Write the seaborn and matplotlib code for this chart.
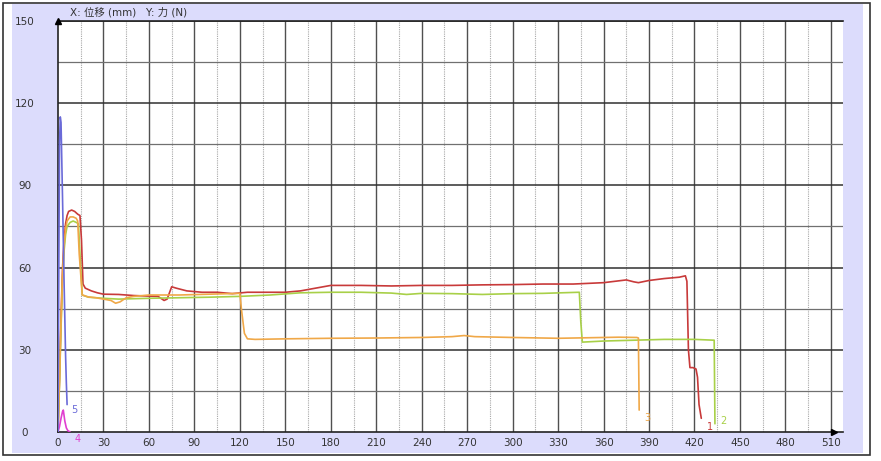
import numpy as np
import pandas as pd
import matplotlib.pyplot as plt
import seaborn as sns
from matplotlib.patches import Rectangle

# curve data (displacement mm, force N)
x1 = [0, 1, 2, 3, 4, 5, 6, 7, 9, 11, 13, 14.5, 15.5, 16.5, 18, 22, 26, 30, 40, 50, 60, 66, 70, 72, 75,
      78, 85, 95, 105, 115, 125, 140, 150, 160, 170, 180, 200, 220, 240, 260, 280, 300, 320, 340,
      360, 375, 380, 383, 390, 400, 410, 414, 415, 416, 417, 419, 421, 422, 423, 424.5]
y1 = [0, 20, 42, 60, 70, 76, 79, 80.5, 81, 80.5, 79.5, 79, 70, 54, 52.5, 51.5, 50.8, 50.3, 50.2, 49.8,
      49.6, 49.5, 48, 48.5, 53, 52.5, 51.5, 51, 51, 50.5, 51, 51, 51, 51.5, 52.5, 53.5, 53.5, 53.3,
      53.5, 53.5, 53.7, 53.8, 54, 54, 54.5, 55.5, 54.8, 54.5, 55.3, 56, 56.5, 57, 55, 30, 23.5, 23.5,
      23, 20, 10, 5]

x2 = [0, 1, 2, 3, 4, 5, 6, 8, 10, 12, 13.5, 14.5, 16, 20, 30, 40, 60, 80, 100, 120, 140, 160, 180, 200,
      220, 230, 240, 260, 280, 300, 320, 344, 345, 346, 360, 380, 400, 420, 433, 433.5]
y2 = [0, 18, 38, 55, 66, 72, 75, 76.5, 77, 76.5, 76, 65, 50, 49.2, 48.8, 48.5, 48.8, 49, 49.2, 49.5,
      50, 50.8, 51, 51, 50.7, 50.2, 50.6, 50.5, 50.2, 50.5, 50.6, 51, 40, 32.8, 33.2, 33.5, 33.8, 33.8,
      33.5, 3]

x3 = [0, 1, 2, 3, 4, 5, 6, 8, 10, 12, 13, 14, 16, 20, 25, 30, 35, 38, 41, 45, 50, 60, 80, 100, 120,
      121, 123, 125, 130, 150, 180, 210, 240, 260, 268, 275, 300, 330, 350, 370, 382, 383, 383.5]
y3 = [0, 19, 40, 57, 68, 74, 77, 78.5, 78.5, 78, 77, 65, 50, 49.3, 49, 48.5, 48, 47, 47.5, 49, 49.5,
      50, 50, 50.3, 50.6, 45, 36, 34, 33.8, 34, 34.2, 34.3, 34.5, 34.8, 35.2, 34.8, 34.5, 34.2, 34.4,
      34.6, 34.5, 34.3, 8]

x4 = [0, 1, 2, 3, 3.5, 4.5, 5.5, 6.5, 8]
y4 = [0, 2, 5, 7.5, 8, 4, 1.5, 0.5, 0]

x5 = [0, 0.5, 1, 1.5, 2, 3, 4, 5, 5.5, 6]
y5 = [0, 55, 105, 115, 113, 85, 55, 28, 18, 10]

curve_names = ["1", "2", "3", "4", "5"]
curve_colors = ["#C83A3A", "#A8D048", "#F0A848", "#E040D0", "#6A6AD8"]
label_x = [430, 439, 389, 13, 11]
label_y = [2, 4, 5, -2.5, 8]

title_text = "X: 位移 (mm)   Y: 力 (N)"
x_ticks = list(range(0, 511, 30))
y_ticks = list(range(0, 151, 30))

frames = []
for name, xs, ys in zip(curve_names, [x1, x2, x3, x4, x5], [y1, y2, y3, y4, y5]):
    frames.append(pd.DataFrame({"disp": xs, "force": ys, "curve": name}))
df = pd.concat(frames, ignore_index=True)

sns.set_style("white")
plt.rcParams['font.family'] = ['DejaVu Sans', 'Noto Sans CJK SC']

fig = plt.figure(figsize=(8.81, 4.61), dpi=100)
fig.patch.set_facecolor("white")

# outer frame + lavender panel
W, H = 881, 461
fig.patches.append(Rectangle((3 / W, 1 - 455 / H), 867 / W, 452 / H, transform=fig.transFigure,
                             facecolor="white", edgecolor="#333333", lw=1.2, zorder=-10))
fig.patches.append(Rectangle((12 / W, 1 - 453 / H), 851 / W, 449 / H, transform=fig.transFigure,
                             facecolor="#DCDCFC", edgecolor="none", zorder=-9))

ax = fig.add_axes([58 / W, 1 - 432 / H, (843 - 58) / W, (432 - 21) / H])
ax.set_zorder(5)
ax.set_facecolor("white")
ax.set_xlim(0, 518)
ax.set_ylim(0, 150)

# grid
for v in range(15, 520, 30):
    ax.axvline(v, color="#A8A8A8", lw=0.8, ls=(0, (1, 1)), zorder=1)
for v in range(30, 520, 30):
    ax.axvline(v, color="#505050", lw=1.0, zorder=1)
for v in range(15, 150, 30):
    ax.axhline(v, color="#707070", lw=0.9, zorder=1)
for v in range(30, 151, 30):
    ax.axhline(v, color="#303030", lw=1.1, zorder=1)

sns.lineplot(data=df, x="disp", y="force", hue="curve", palette=dict(zip(curve_names, curve_colors)),
             sort=False, estimator=None, units="curve", legend=False, lw=1.2, ax=ax, zorder=3)

for name, c, lx, ly in zip(curve_names, curve_colors, label_x, label_y):
    ax.text(lx, ly, name, color=c, fontsize=7, ha="center", va="center", clip_on=False)

# axis arrows
ax.plot([0], [150], marker="^", color="black", ms=5, clip_on=False, zorder=5)
ax.plot([512], [0], marker=">", color="black", ms=5, clip_on=False, zorder=5)

ax.spines["right"].set_visible(False)
for s in ["left", "bottom", "top"]:
    ax.spines[s].set_color("#222222")
    ax.spines[s].set_linewidth(1.2)

ax.set_xticks(x_ticks)
ax.set_yticks(y_ticks)
ax.tick_params(length=0)
ax.tick_params(axis="x", pad=4.5, labelsize=7.5, colors="#333333")
ax.tick_params(axis="y", pad=24, labelsize=7.5, colors="#333333")
for t in ax.get_yticklabels():
    t.set_ha("center")
ax.set_xlabel("")
ax.set_ylabel("")

fig.text(70 / W, 1 - 12 / H, title_text, fontsize=7.5, ha="left", va="center", color="#333333",
         family=['DejaVu Sans', 'Noto Sans CJK SC'])

fig.savefig("out.png", dpi=100)
